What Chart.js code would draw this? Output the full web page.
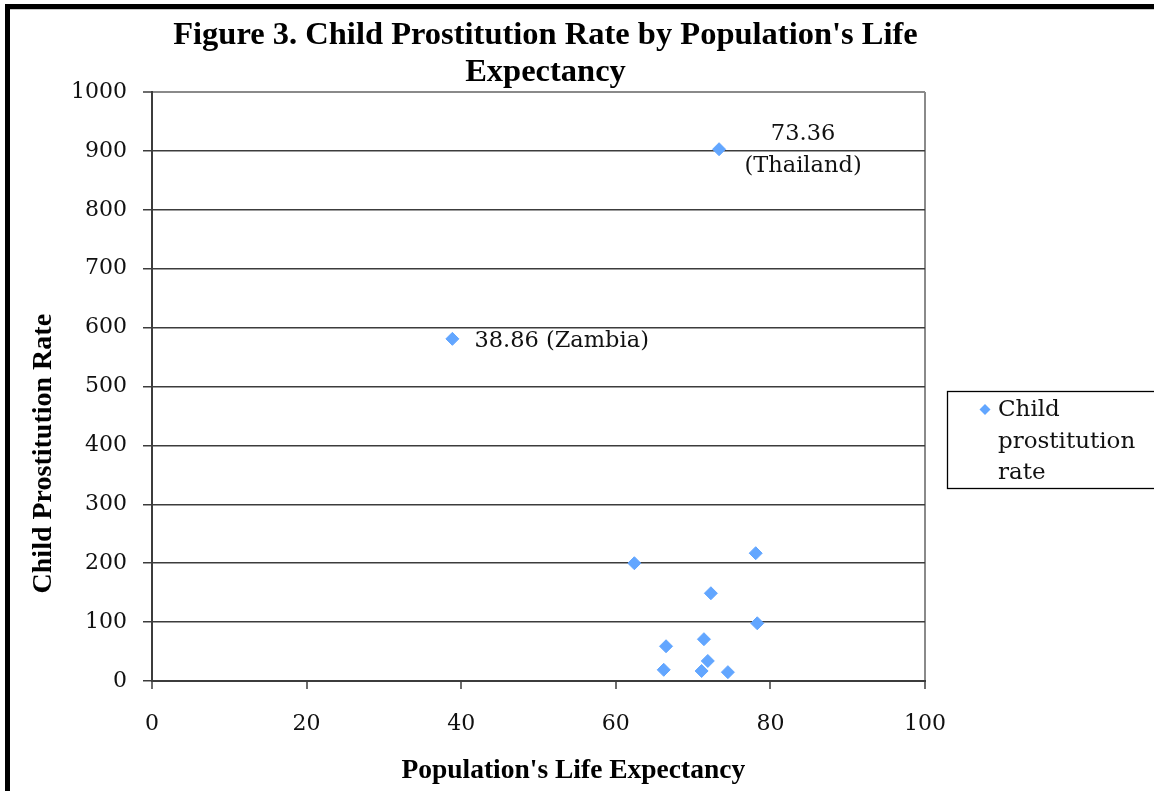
<!DOCTYPE html>
<html>
<head>
<meta charset="utf-8">
<script src="https://cdn.jsdelivr.net/npm/chart.js@4.4.1/dist/chart.umd.min.js"></script>
<style>
  html, body { margin: 0; padding: 0; background: #fff; }
  #wrap { width: 1154px; height: 791px; position: relative; }
  canvas { display: block; }
</style>
</head>
<body>
<div id="wrap"><canvas id="chart" width="1154" height="791"></canvas></div>
<script>
// Country observations: life expectancy (years) vs. child prostitution rate
const lifeExpectancy        = [38.86, 73.36, 62.4, 78.1, 72.3, 78.3, 71.4, 66.5, 71.9, 66.2, 71.1, 74.5];
const childProstitutionRate = [581,   903,   200,  217,  149,  98,   71,   59,   34,   19,   17,   15];
const countryNames          = ['Zambia', 'Thailand', '', '', '', '', '', '', '', '', '', ''];

const xTickValues = [0, 20, 40, 60, 80, 100];
const yTickValues = [0, 100, 200, 300, 400, 500, 600, 700, 800, 900, 1000];

const chartTitle = ["Figure 3. Child Prostitution Rate by Population's Life", 'Expectancy'];
const xAxisTitle = "Population's Life Expectancy";
const yAxisTitle = 'Child Prostitution Rate';
const seriesName = 'Child prostitution rate';

const POINT_COLOR = '#62a6ff';
const TEXT_COLOR = '#111';
const GRID_COLOR = '#3c3c3c';
const FRAME_GRAY = '#8a8a8a';
const SERIF = "'DejaVu Serif', serif";
const SERIF_BOLD = "'Liberation Serif', serif";

// White page with the heavy black frame along the top and left edges
const pageFrame = {
  id: 'pageFrame',
  beforeDraw(chart) {
    const ctx = chart.ctx;
    ctx.save();
    ctx.fillStyle = '#fff';
    ctx.fillRect(0, 0, chart.width, chart.height);
    ctx.fillStyle = '#000';
    ctx.fillRect(5, 4, chart.width - 5, 5);
    ctx.fillRect(5, 4, 5, chart.height - 4);
    ctx.fillStyle = '#c8c8c8';
    ctx.fillRect(10, 9, chart.width - 10, 1);
    ctx.restore();
  }
};

// Nudge the chart title slightly right of the plot centre
const titleNudge = {
  id: 'titleNudge',
  afterLayout(chart) {
    const t = chart.titleBlock;
    if (t) { t.left += 7; t.right += 7; }
  }
};

// Value/country annotations next to the named points
const pointNotes = {
  id: 'pointNotes',
  afterDatasetsDraw(chart) {
    const ctx = chart.ctx;
    const meta = chart.getDatasetMeta(0);
    ctx.save();
    ctx.fillStyle = TEXT_COLOR;
    ctx.font = '22.5px ' + SERIF;
    ctx.textBaseline = 'middle';
    countryNames.forEach((name, i) => {
      if (!name) return;
      const pt = meta.data[i];
      const valueText = lifeExpectancy[i].toFixed(2);
      if (name === 'Thailand') {
        ctx.textAlign = 'center';
        ctx.fillText(valueText, pt.x + 84, pt.y - 15);
        ctx.fillText('(' + name + ')', pt.x + 84, pt.y + 17);
      } else {
        ctx.textAlign = 'left';
        ctx.fillText(valueText + ' (' + name + ')', pt.x + 22, pt.y + 2);
      }
    });
    ctx.restore();
  }
};

// Axis titles placed beside the plot area
const axisTitles = {
  id: 'axisTitles',
  afterDraw(chart) {
    const ctx = chart.ctx;
    const area = chart.chartArea;
    ctx.save();
    ctx.fillStyle = '#000';
    ctx.textAlign = 'center';
    ctx.textBaseline = 'middle';
    ctx.font = 'bold 27.5px ' + SERIF_BOLD;
    ctx.fillText(xAxisTitle, area.left + (area.right - area.left) * 0.545, 771);
    ctx.translate(44, area.top + (area.bottom - area.top) * 0.614);
    ctx.rotate(-Math.PI / 2);
    ctx.font = 'bold 28px ' + SERIF_BOLD;
    ctx.fillText(yAxisTitle, 0, 0);
    ctx.restore();
  }
};

// Boxed legend to the right of the plot with wrapped series name
const sideLegend = {
  id: 'sideLegend',
  afterDraw(chart) {
    const ctx = chart.ctx;
    const ds = chart.data.datasets[0];
    const boxX = 947.5, boxY = 391.5, boxW = 230, boxH = 97;
    const mx = 985, my = boxY + 18, r = 5.5;
    ctx.save();
    ctx.strokeStyle = '#000';
    ctx.lineWidth = 1.3;
    ctx.strokeRect(boxX, boxY, boxW, boxH);
    ctx.font = '23px ' + SERIF;
    const words = ds.label.split(' ');
    const lines = [];
    let cur = '';
    words.forEach(w => {
      const trial = cur ? cur + ' ' + w : w;
      if (cur && ctx.measureText(trial).width > 150) { lines.push(cur); cur = w; }
      else cur = trial;
    });
    if (cur) lines.push(cur);
    ctx.fillStyle = ds.backgroundColor;
    ctx.beginPath();
    ctx.moveTo(mx - r, my);
    ctx.lineTo(mx, my - r);
    ctx.lineTo(mx + r, my);
    ctx.lineTo(mx, my + r);
    ctx.closePath();
    ctx.fill();
    ctx.fillStyle = TEXT_COLOR;
    ctx.textAlign = 'left';
    ctx.textBaseline = 'middle';
    lines.forEach((ln, k) => ctx.fillText(ln, 998, my + 1 + k * 31.5));
    ctx.restore();
  }
};

new Chart(document.getElementById('chart'), {
  type: 'scatter',
  data: {
    datasets: [{
      label: seriesName,
      data: lifeExpectancy.map((x, i) => ({ x: x, y: childProstitutionRate[i] })),
      backgroundColor: POINT_COLOR,
      borderColor: POINT_COLOR,
      borderWidth: 1,
      pointStyle: 'rectRot',
      pointRadius: 6.5,
      pointHoverRadius: 6.5
    }]
  },
  options: {
    responsive: false,
    animation: false,
    devicePixelRatio: 1,
    layout: { padding: { left: 10, top: 0, right: 229, bottom: 0 } },
    plugins: {
      legend: { display: false },
      tooltip: { enabled: false },
      title: {
        display: true,
        text: chartTitle,
        fullSize: false,
        color: '#000',
        font: { family: SERIF_BOLD, size: 32.5, weight: 'bold', lineHeight: 1.14 },
        padding: { top: 17.5, bottom: 0.5 }
      }
    },
    scales: {
      x: {
        type: 'linear',
        min: 0,
        max: 100,
        afterFit(scale) { scale.height = 110; },
        afterBuildTicks(scale) { scale.ticks = xTickValues.map(v => ({ value: v })); },
        grid: {
          drawOnChartArea: true,
          color: ctx => (ctx.tick && ctx.tick.value === 100 ? FRAME_GRAY : 'rgba(0,0,0,0)'),
          lineWidth: 2,
          tickColor: GRID_COLOR,
          tickWidth: 1.5,
          tickLength: 8
        },
        border: { display: true, color: GRID_COLOR, width: 2 },
        ticks: {
          color: TEXT_COLOR,
          font: { family: SERIF, size: 22 },
          padding: 22,
          maxRotation: 0,
          callback: v => String(v)
        }
      },
      y: {
        type: 'linear',
        min: 0,
        max: 1000,
        afterFit(scale) { scale.width = 142; },
        afterBuildTicks(scale) { scale.ticks = yTickValues.map(v => ({ value: v })); },
        grid: {
          color: ctx => (ctx.tick && ctx.tick.value === 1000 ? FRAME_GRAY : GRID_COLOR),
          lineWidth: ctx => (ctx.tick && ctx.tick.value === 1000 ? 2 : 1.5),
          tickColor: GRID_COLOR,
          tickWidth: 1.5,
          tickLength: 9
        },
        border: { display: true, color: GRID_COLOR, width: 2 },
        ticks: {
          color: TEXT_COLOR,
          font: { family: SERIF, size: 22 },
          padding: 16,
          callback: v => String(v)
        }
      }
    }
  },
  plugins: [pageFrame, titleNudge, pointNotes, axisTitles, sideLegend]
});
</script>
</body>
</html>
